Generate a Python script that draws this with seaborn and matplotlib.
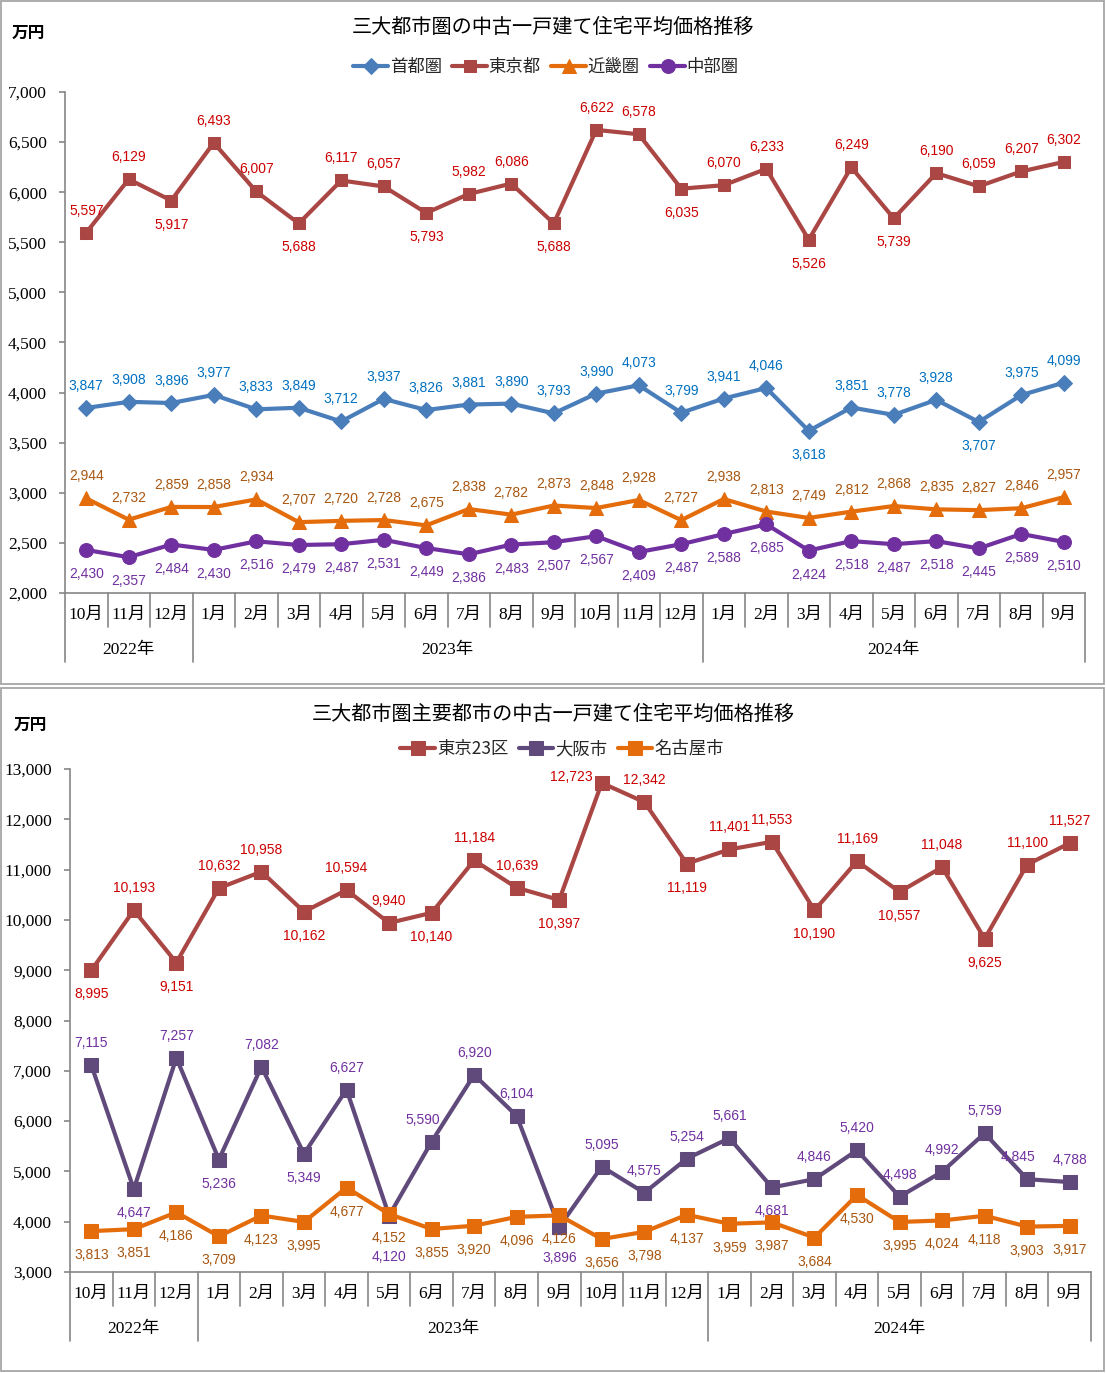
import numpy as np
import pandas as pd
import matplotlib
matplotlib.use("Agg")
import matplotlib.pyplot as plt
import seaborn as sns
from matplotlib.patches import Rectangle

# ---------------- data ----------------
months = ["10月", "11月", "12月", "1月", "2月", "3月", "4月", "5月", "6月", "7月", "8月", "9月",
          "10月", "11月", "12月", "1月", "2月", "3月", "4月", "5月", "6月", "7月", "8月", "9月"]
years = ["2022年", "2023年", "2024年"]
year_first_idx = [0, 3, 15]

top_title = "三大都市圏の中古一戸建て住宅平均価格推移"
bottom_title = "三大都市圏主要都市の中古一戸建て住宅平均価格推移"
unit = "万円"

top_names = ["首都圏", "東京都", "近畿圏", "中部圏"]
shuto = [3847, 3908, 3896, 3977, 3833, 3849, 3712, 3937, 3826, 3881, 3890, 3793,
         3990, 4073, 3799, 3941, 4046, 3618, 3851, 3778, 3928, 3707, 3975, 4099]
tokyo = [5597, 6129, 5917, 6493, 6007, 5688, 6117, 6057, 5793, 5982, 6086, 5688,
         6622, 6578, 6035, 6070, 6233, 5526, 6249, 5739, 6190, 6059, 6207, 6302]
kinki = [2944, 2732, 2859, 2858, 2934, 2707, 2720, 2728, 2675, 2838, 2782, 2873,
         2848, 2928, 2727, 2938, 2813, 2749, 2812, 2868, 2835, 2827, 2846, 2957]
chubu = [2430, 2357, 2484, 2430, 2516, 2479, 2487, 2531, 2449, 2386, 2483, 2507,
         2567, 2409, 2487, 2588, 2685, 2424, 2518, 2487, 2518, 2445, 2589, 2510]

bottom_names = ["東京23区", "大阪市", "名古屋市"]
tokyo23 = [8995, 10193, 9151, 10632, 10958, 10162, 10594, 9940, 10140, 11184, 10639, 10397,
           12723, 12342, 11119, 11401, 11553, 10190, 11169, 10557, 11048, 9625, 11100, 11527]
osaka = [7115, 4647, 7257, 5236, 7082, 5349, 6627, 4120, 5590, 6920, 6104, 3896,
         5095, 4575, 5254, 5661, 4681, 4846, 5420, 4498, 4992, 5759, 4845, 4788]
nagoya = [3813, 3851, 4186, 3709, 4123, 3995, 4677, 4152, 3855, 3920, 4096, 4126,
          3656, 3798, 4137, 3959, 3987, 3684, 4530, 3995, 4024, 4118, 3903, 3917]

# ---------------- label placement (style) ----------------
# a: above, k: above-left, b: below, B: far below, m: mid below, l: left
pl_shuto = "aaaaaaaaaaaaaaaaabaaabaa"
pl_tokyo = "aabaabaabaabaabaababaaaa"
pl_kinki = "a" * 24
pl_chubu = "b" * 24
pl_t23 = "babaabaabaablabaabababaa"
pl_osaka = "abababaBkaamaaaabaaaaaka"
pl_nagoya = "b" * 24
OFFS = {"a": (0, 22), "k": (-9, 22), "b": (0, -24), "B": (0, -41), "m": (0, -31), "l": (-30, 6)}

# ---------------- styling ----------------
W, H = 1106, 1373
DPI = 100
sns.set_theme(style="white")
plt.rcParams["font.family"] = ["Noto Sans CJK JP", "DejaVu Sans"]

AXC = "#868686"
SERIF = ["Liberation Serif", "Noto Sans CJK JP"]
LBLFONT = ["Liberation Sans"]

fig = plt.figure(figsize=(W / DPI, H / DPI), dpi=DPI)
fig.patch.set_facecolor("white")


def rect(l, t, r, b):
    return [l / W, 1 - b / H, (r - l) / W, (b - t) / H]


def draw_panel(box, axbox, title, title_y, unit_xy, legend_y, legend_x, series, ylim, ystep):
    l, t, r, b = box
    fig.patches.append(Rectangle((l / W, 1 - b / H), (r - l) / W, (b - t) / H,
                                 transform=fig.transFigure, fill=False,
                                 edgecolor="#A6A6A6", lw=1.3, zorder=0))
    ax = fig.add_axes(rect(*axbox))
    ax.set_facecolor("none")
    x = np.arange(len(months))
    handles = []
    for name, vals, col, mk, ms, lcol, plc in series:
        sns.lineplot(x=x, y=vals, ax=ax, color=col, marker=mk, markersize=ms,
                     markeredgecolor=col, markerfacecolor=col, linewidth=3,
                     label=name, zorder=3)
        handles.append(ax.get_lines()[-1])
        for i, v in enumerate(vals):
            ax.annotate(f"{v:,}", (i, v), xytext=OFFS[plc[i]], textcoords="offset pixels",
                        ha="center", va="center", color=lcol, fontsize=10,
                        family=LBLFONT, zorder=4)
    ax.set_xlim(-0.5, len(months) - 0.5)
    ax.set_ylim(*ylim)
    ax.set_yticks(np.arange(ylim[0], ylim[1] + 1, ystep))
    ax.set_yticklabels([f"{int(v):,}" for v in ax.get_yticks()], family=SERIF, fontsize=12.5)
    ax.set_xticks([])
    ax.set_xlabel("")
    ax.set_ylabel("")
    for s in ["top", "right"]:
        ax.spines[s].set_visible(False)
    for s in ["left", "bottom"]:
        ax.spines[s].set_color(AXC)
        ax.spines[s].set_linewidth(1.2)
    ax.tick_params(axis="y", direction="out", length=4, width=1.2, color=AXC, pad=9,
                   left=True, labelcolor="black")

    ax_h = axbox[3] - axbox[1]
    tr = ax.get_xaxis_transform()
    for i in range(len(months)):
        ax.annotate(months[i], (i, 0), xycoords=tr, xytext=(0, -22), textcoords="offset pixels",
                    ha="center", va="center", fontsize=12.5, family=SERIF, color="black")
    year_bounds = set(year_first_idx) | {len(months)}
    for j in range(len(months) + 1):
        xx = j - 0.5
        depth = 69 if j in year_bounds else 34
        ax.plot([xx, xx], [0, -depth / ax_h], transform=tr, clip_on=False,
                color=AXC, lw=1.2, zorder=1)
    starts = year_first_idx + [len(months)]
    for k, yl in enumerate(years):
        cx = (starts[k] + starts[k + 1] - 1) / 2
        ax.annotate(yl, (cx, 0), xycoords=tr, xytext=(0, -57), textcoords="offset pixels",
                    ha="center", va="center", fontsize=12.5, family=SERIF, color="black")

    fig.text(0.5, 1 - title_y / H, title, ha="center", va="center", fontsize=14.5, color="black")
    fig.text(unit_xy[0] / W, 1 - unit_xy[1] / H, unit, ha="center", va="center",
             fontsize=12, fontweight="bold", color="black")
    ax.legend(handles=handles, labels=[s[0] for s in series], loc="center",
              bbox_to_anchor=(legend_x / W, 1 - legend_y / H), bbox_transform=fig.transFigure,
              ncol=len(series), frameon=False, handlelength=2.0, handletextpad=0.1,
              columnspacing=0.6, fontsize=12.5, numpoints=1)
    return ax


top_series = [
    ("首都圏", shuto, "#4A7EBB", "D", 8, "#0070C0", pl_shuto),
    ("東京都", tokyo, "#AA4643", "s", 9, "#CC0000", pl_tokyo),
    ("近畿圏", kinki, "#E46C0A", "^", 10, "#A85610", pl_kinki),
    ("中部圏", chubu, "#7030A0", "o", 10, "#7030A0", pl_chubu),
]
bottom_series = [
    ("東京23区", tokyo23, "#AA4643", "s", 10, "#CC0000", pl_t23),
    ("大阪市", osaka, "#604A7B", "s", 10, "#7030A0", pl_osaka),
    ("名古屋市", nagoya, "#E46C0A", "s", 10, "#A85610", pl_nagoya),
]

draw_panel((1, 1, 1104, 684), (65, 92, 1085, 593), top_title, 27, (28, 33), 67, 546,
           top_series, (2000, 7000), 500)
draw_panel((1, 688, 1104, 1371), (70, 769, 1091, 1272), bottom_title, 714, (30, 725), 749, 562,
           bottom_series, (3000, 13000), 1000)

fig.savefig("out.png", dpi=DPI, facecolor="white")
